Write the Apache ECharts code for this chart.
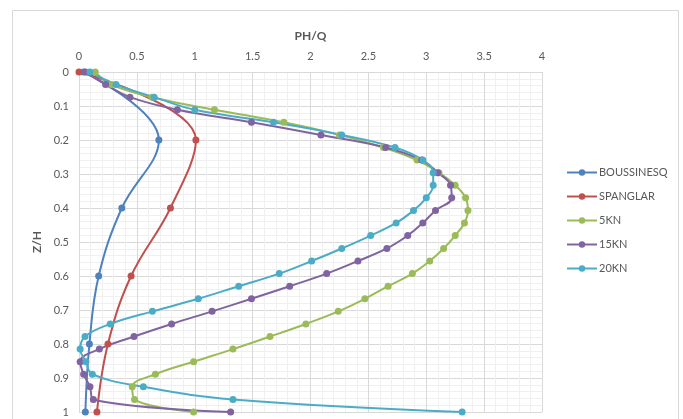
<!DOCTYPE html>
<html>
<head>
<meta charset="utf-8">
<script src="https://cdn.jsdelivr.net/npm/echarts@6/dist/echarts.min.js"></script>
<style>html,body{margin:0;padding:0;background:#fff;}#c{width:683px;height:419px;}</style>
</head>
<body>
<div id="c"></div>
<script>
var seriesNames = ['BOUSSINESQ', 'SPANGLAR', '5KN', '15KN', '20KN'];
var zShort = [0, 0.2, 0.4, 0.6, 0.8, 1.0];
var boussinesq = [0.04, 0.69, 0.37, 0.17, 0.09, 0.055];
var spanglar = [0, 1.01, 0.79, 0.45, 0.25, 0.155];
var zLong = [0, 0.037, 0.074, 0.111, 0.148, 0.185, 0.222, 0.259, 0.296, 0.333, 0.370, 0.407, 0.444, 0.481,
             0.519, 0.556, 0.593, 0.630, 0.667, 0.704, 0.741, 0.778, 0.815, 0.852, 0.889, 0.926, 0.963, 1.0];
var kn5 = [0.14, 0.28, 0.63, 1.17, 1.77, 2.25, 2.63, 2.92, 3.11, 3.25, 3.34, 3.36, 3.33, 3.25,
           3.15, 3.03, 2.88, 2.67, 2.47, 2.24, 1.96, 1.65, 1.33, 0.99, 0.66, 0.46, 0.48, 0.99];
var kn15 = [0.055, 0.23, 0.44, 0.85, 1.49, 2.09, 2.65, 2.96, 3.10, 3.21, 3.22, 3.08, 2.97, 2.84,
            2.66, 2.41, 2.14, 1.82, 1.49, 1.15, 0.80, 0.475, 0.176, 0.01, 0.04, 0.095, 0.124, 1.31];
var kn20 = [0.095, 0.32, 0.65, 1.0, 1.68, 2.27, 2.73, 2.97, 3.06, 3.06, 3.0, 2.89, 2.74, 2.52,
            2.27, 2.01, 1.73, 1.38, 1.03, 0.634, 0.27, 0.052, 0.01, 0.06, 0.115, 0.556, 1.33, 3.31];
var colors = ['#4F81BD', '#C0504D', '#9BBB59', '#8064A2', '#4BACC6'];

function pairs(xs, zs) { return xs.map(function (v, i) { return [v, zs[i]]; }); }
var seriesData = [pairs(boussinesq, zShort), pairs(spanglar, zShort), pairs(kn5, zLong), pairs(kn15, zLong), pairs(kn20, zLong)];

var font = 'Lato, "Open Sans", sans-serif';
var chart = echarts.init(document.getElementById('c'), null, {renderer: 'canvas'});
chart.setOption({
  animation: false,
  color: colors,
  textStyle: {fontFamily: font},
  graphic: [{
    type: 'rect', shape: {x: 12.5, y: 10.5, width: 666, height: 420},
    style: {fill: 'none', stroke: '#d9d9d9', lineWidth: 1}, silent: true, z: -10
  }],
  grid: {left: 79, top: 72, width: 463, height: 340, containLabel: false},
  legend: {
    orient: 'vertical', left: 561, top: 162, itemWidth: 30, itemHeight: 8, itemGap: 13,
    textStyle: {color: '#595959', fontSize: 11, fontFamily: font, padding: [0, 0, 0, -3]},
    data: seriesNames
  },
  xAxis: {
    type: 'value', position: 'top', min: 0, max: 4, interval: 0.5,
    name: 'PH/Q', nameLocation: 'middle', nameGap: 30,
    nameTextStyle: {color: '#595959', fontSize: 12, fontWeight: 'bold', fontFamily: font},
    axisLabel: {color: '#595959', fontSize: 11, margin: 10, fontFamily: font},
    axisLine: {show: true, lineStyle: {color: '#d9d9d9'}},
    axisTick: {show: false},
    splitLine: {show: true, lineStyle: {color: '#d9d9d9', width: 1}},
    minorTick: {show: false, splitNumber: 5},
    minorSplitLine: {show: true, lineStyle: {color: '#f0f0f0', width: 1}}
  },
  yAxis: {
    type: 'value', inverse: true, min: 0, max: 1, interval: 0.1,
    name: 'Z/H', nameLocation: 'middle', nameGap: 34, nameRotate: 90,
    nameTextStyle: {color: '#595959', fontSize: 12, fontWeight: 'bold', fontFamily: font},
    axisLabel: {color: '#595959', fontSize: 11, margin: 10, fontFamily: font},
    axisLine: {show: true, lineStyle: {color: '#d9d9d9'}},
    axisTick: {show: false},
    splitLine: {show: true, lineStyle: {color: '#d9d9d9', width: 1}},
    minorTick: {show: false, splitNumber: 5},
    minorSplitLine: {show: true, lineStyle: {color: '#f0f0f0', width: 1}}
  },
  series: seriesNames.map(function (n, i) {
    return {
      name: n, type: 'line', data: seriesData[i], smooth: 0.4,
      symbol: 'circle', symbolSize: 7, showSymbol: true,
      lineStyle: {width: 2, color: colors[i]},
      itemStyle: {color: colors[i]},
      clip: false
    };
  })
});
</script>
</body>
</html>
